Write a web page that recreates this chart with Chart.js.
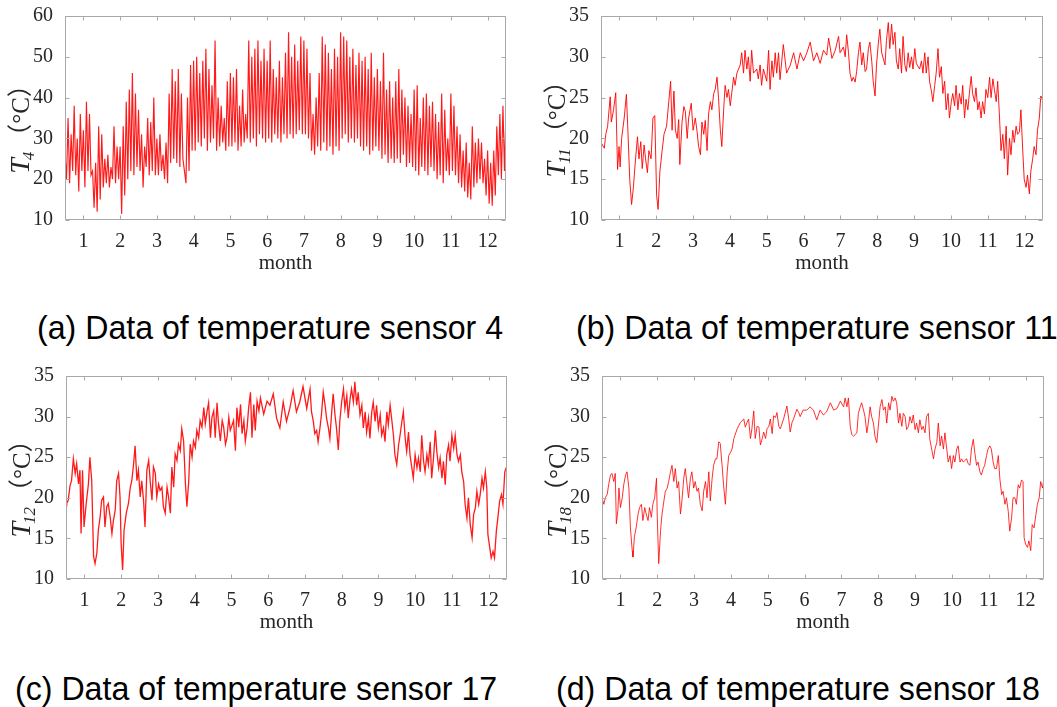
<!DOCTYPE html>
<html>
<head>
<meta charset="utf-8">
<script src="https://cdn.jsdelivr.net/npm/chart.js@4.4.1/dist/chart.umd.min.js"></script>
<style>
body{margin:0;background:#fff;width:1057px;height:707px;position:relative;overflow:hidden}
canvas{position:absolute}
.cap{position:absolute;font-family:"Liberation Sans",Arial,sans-serif;font-size:34px;line-height:34px;color:#000;white-space:nowrap;transform:scaleX(0.945);transform-origin:0 50%}
</style>
</head>
<body>
<canvas id="ca" width="530" height="280" style="left:0;top:0"></canvas>
<canvas id="cb" width="527" height="280" style="left:530px;top:0"></canvas>
<canvas id="cc" width="530" height="280" style="left:0;top:360px"></canvas>
<canvas id="cd" width="527" height="280" style="left:530px;top:360px"></canvas>
<div class="cap" style="left:37px;top:310px">(a) Data of temperature sensor 4</div>
<div class="cap" style="left:576px;top:310px">(b) Data of temperature sensor 11</div>
<div class="cap" style="left:15px;top:671px">(c) Data of temperature sensor 17</div>
<div class="cap" style="left:556px;top:671px">(d) Data of temperature sensor 18</div>
<script>
const monthTicks = [1,2,3,4,5,6,7,8,9,10,11,12];
const ticksT4 = [10,20,30,40,50,60];
const ticksLow = [10,15,20,25,30,35];

// sensor 4 swings day/night, read as high/low pairs every 1/24 month from 0.5
const t4 = [
  26,20,35,19,31,22,38,21,30,17,36,22,
  32,18,39,22,36,21,22,13,24,12,33,15,
  31,18,25,19,26,18,23,20,33,19,28,20,
  28,11.5,33,16,39,20,42,22,46,21,41,23,
  37,22,31,18,28,23,35,21,34,22,40,21,
  30,21,31,22,26,20,29,19,41,24,47,25,
  44,24,47,23,41,25,22,19,40,22,48,27,
  49,27,50,29,46,28,49,30,52,27,47,29,
  43,30,54,27,40,28,38,29,35,27,44,28,
  46,28,45,29,47,27,38,28,42,29,36,30,
  54,29,50,30,52,28,54,31,49,30,52,29,
  49,30,54,29,47,31,45,30,49,29,45,31,
  51,30,56,31,50,30,53,31,49,32,55,31,
  54,31,52,30,46,27,36,26,40,28,46,27,
  55,29,53,27,51,28,47,26,52,28,50,27,
  56,30,55,31,54,29,50,30,52,29,48,30,
  51,28,49,27,50,28,47,26,51,27,45,28,
  47,27,44,25,51,26,42,24,44,25,40,24,
  44,25,47,24,42,26,40,23,38,24,36,23,
  42,22,43,21,35,23,40,22,41,21,38,23,
  39,22,36,20,34,21,41,19,37,22,30,21,
  41,22,38,21,33,19,31,18,27,17,29,15.5,
  24,15,33,18,29,19,30,20,29,19,25,16,
  27,14,24,13.5,27,16,33,21,36,20,38,22,37
];

// [month, °C]
const t11 = [
  [0.5,19.5],[0.59,18.8],[0.63,20.5],[0.68,21.5],[0.75,25.1],[0.78,22],[0.84,23.5],[0.9,25.6],
  [0.95,16.2],[0.99,19],[1.02,16.5],[1.06,20],[1.13,22.5],[1.19,25.4],[1.23,21],[1.28,15],
  [1.33,11.9],[1.38,14],[1.42,16.5],[1.49,20.2],[1.53,17.5],[1.58,19.6],[1.62,16.3],[1.67,19.2],
  [1.71,17.5],[1.76,15.8],[1.8,18.5],[1.86,17.5],[1.91,22.5],[1.96,22.8],[2.01,13],[2.05,11.3],
  [2.1,16],[2.16,18.5],[2.21,20.5],[2.28,21.5],[2.34,24.5],[2.39,27],[2.43,21],[2.48,25.8],
  [2.52,21],[2.57,20],[2.61,22.3],[2.64,16.8],[2.7,22],[2.75,23.9],[2.79,23.3],[2.84,20],
  [2.88,22.5],[2.95,24.3],[3,21],[3.06,22.5],[3.11,20.8],[3.15,19],[3.2,18],[3.24,22],
  [3.29,20.5],[3.33,22.2],[3.38,18.5],[3.42,23],[3.47,24.5],[3.51,23.5],[3.56,25.5],[3.6,26],
  [3.65,27.5],[3.69,25],[3.74,21],[3.78,19],[3.83,23.5],[3.87,26.5],[3.92,25],[3.96,26],
  [4.01,24],[4.1,27.5],[4.14,26.5],[4.19,28],[4.28,29],[4.32,30.5],[4.37,28],[4.41,30.8],
  [4.46,28.5],[4.5,30],[4.55,27],[4.59,30.8],[4.64,28],[4.73,28.5],[4.77,27.3],[4.82,29],
  [4.86,26.5],[4.91,28.5],[5,27],[5.05,30.8],[5.09,26],[5.14,29.5],[5.18,27.5],[5.23,30.5],
  [5.27,28],[5.32,30.5],[5.36,27.2],[5.45,31.5],[5.54,28],[5.64,29],[5.73,30.5],[5.82,28.5],
  [5.91,30.5],[6,29.5],[6.09,30.5],[6.18,31.8],[6.27,29.5],[6.36,30.5],[6.45,29.2],[6.54,30.8],
  [6.63,30.2],[6.68,32.3],[6.77,29.8],[6.86,30.8],[6.95,32.5],[6.99,30.5],[7.08,31.2],[7.13,30],
  [7.17,32.7],[7.22,30.5],[7.26,28],[7.31,27],[7.35,27.5],[7.4,26.9],[7.44,28.2],[7.49,30.5],
  [7.53,31.8],[7.58,29],[7.62,30.5],[7.67,28.2],[7.71,28.5],[7.76,31],[7.8,31.8],[7.85,29.5],
  [7.89,27],[7.94,25.2],[7.98,29],[8.03,31.7],[8.07,33.4],[8.12,30.5],[8.21,29],[8.25,32],
  [8.3,34.2],[8.34,31],[8.39,34],[8.43,31.5],[8.48,33],[8.52,29.5],[8.57,28.5],[8.61,31],
  [8.66,28],[8.7,32.5],[8.75,29],[8.79,28.2],[8.84,30.5],[8.88,28.7],[8.93,30],[8.97,28.5],
  [9.02,31],[9.06,29.2],[9.15,28.5],[9.2,29.5],[9.24,28],[9.29,30.5],[9.33,28],[9.38,30],
  [9.42,27],[9.47,25.8],[9.51,24.5],[9.56,26.5],[9.6,28],[9.65,31],[9.69,27.5],[9.74,28.8],
  [9.78,25.5],[9.83,27],[9.87,23.5],[9.92,25.5],[9.96,22.5],[10.01,24.5],[10.05,25.5],[10.1,24],
  [10.14,26.5],[10.19,23.5],[10.23,25.5],[10.28,24.2],[10.32,26.5],[10.37,22.5],[10.41,24.8],[10.46,23.5],
  [10.5,25.5],[10.55,27.6],[10.59,25.5],[10.64,24.5],[10.68,26.2],[10.73,23.5],[10.77,24.5],[10.82,22.5],
  [10.86,24.5],[10.91,23],[10.95,26],[11,25],[11.05,27.5],[11.09,25],[11.14,27.3],[11.18,26],
  [11.23,24.5],[11.27,27],[11.32,22.5],[11.36,18.5],[11.41,20.5],[11.45,17.5],[11.5,21.5],[11.54,15.5],
  [11.59,20],[11.63,18],[11.68,21],[11.72,19.5],[11.77,21.5],[11.81,20.5],[11.86,20.8],[11.9,23.5],
  [11.95,18.5],[11.99,15],[12.04,14],[12.08,15.5],[12.13,13.2],[12.17,16],[12.22,17.5],[12.26,19],
  [12.31,18],[12.35,21],[12.4,22.5],[12.44,25.2],[12.5,24.5]
];

const t12 = [
  [0.5,19],[0.52,19.3],[0.56,19.7],[0.61,21.5],[0.65,22.1],[0.7,24.8],[0.75,23],[0.79,24.2],
  [0.84,21.7],[0.88,23.4],[0.91,15.6],[0.95,23.4],[0.99,16.4],[1.05,19.3],[1.11,21.7],[1.15,25],
  [1.2,22.1],[1.25,12.8],[1.29,11.9],[1.34,13.2],[1.38,16],[1.43,17.7],[1.47,19.7],[1.52,20.1],
  [1.56,16.4],[1.61,18.9],[1.65,19.3],[1.7,17.7],[1.75,15.6],[1.79,17.2],[1.84,18.5],[1.88,22.1],
  [1.93,23],[1.97,20.1],[2,14.4],[2.04,11.1],[2.08,16],[2.14,18.1],[2.2,19.3],[2.25,21.3],
  [2.29,22.1],[2.34,24.2],[2.38,26.4],[2.43,22.1],[2.47,23.4],[2.52,20.1],[2.56,22.1],[2.61,19.7],
  [2.65,16.4],[2.7,23.4],[2.75,24.6],[2.79,22.1],[2.84,19.7],[2.88,23.8],[2.93,23],[2.97,20.1],
  [3.02,21.7],[3.06,20.9],[3.11,21.3],[3.15,18.9],[3.2,18.1],[3.25,21.3],[3.29,20.1],[3.34,18.1],
  [3.38,23.8],[3.43,21.3],[3.47,25.4],[3.52,24.6],[3.56,26.6],[3.61,25.8],[3.65,28.5],[3.7,27],
  [3.75,21.7],[3.79,18.9],[3.84,22.1],[3.88,26.6],[3.93,25],[3.97,27],[4.02,26.2],[4.06,28.3],
  [4.11,27.4],[4.15,29.5],[4.2,28.7],[4.25,31.1],[4.29,29.1],[4.34,30.7],[4.38,31.7],[4.43,27.4],
  [4.47,29.9],[4.52,30.7],[4.56,27.4],[4.61,31.7],[4.65,29.1],[4.7,27],[4.75,29.5],[4.79,28.7],
  [4.84,26.6],[4.88,27.4],[4.93,29.9],[4.97,28.3],[5.06,29.5],[5.11,25.8],[5.15,31.1],[5.2,28.7],
  [5.25,31.5],[5.29,27.9],[5.34,29.5],[5.38,27],[5.43,28.7],[5.47,31.1],[5.52,33],[5.56,27.4],
  [5.61,31.5],[5.65,28.3],[5.7,31.9],[5.75,30.7],[5.79,32.3],[5.88,30.3],[5.97,31.9],[6.05,31.4],
  [6.14,32.8],[6.23,29.8],[6.32,28.6],[6.41,31.8],[6.5,29.4],[6.59,31],[6.68,33.2],[6.77,30.6],
  [6.86,31.8],[6.95,33.7],[7.05,31],[7.14,33.4],[7.18,30.6],[7.23,29.4],[7.27,27.9],[7.32,28.3],
  [7.36,26.9],[7.41,28.6],[7.45,30.2],[7.5,33],[7.55,31.4],[7.59,29.8],[7.64,28.6],[7.68,27.3],
  [7.73,30.6],[7.77,32.8],[7.82,30.2],[7.86,28.6],[7.91,25.9],[7.95,29.4],[8,31.8],[8.05,33.4],
  [8.09,31],[8.14,32.6],[8.18,29.8],[8.23,32.2],[8.27,33.4],[8.32,31.8],[8.36,34.3],[8.41,31.4],
  [8.45,33],[8.5,30.2],[8.55,31.4],[8.59,28.6],[8.64,30.6],[8.68,28.1],[8.73,29.8],[8.77,27.3],
  [8.82,30.6],[8.86,31.8],[8.91,29.4],[8.95,31.4],[9,28.6],[9.05,30.2],[9.09,27.7],[9.14,28.6],
  [9.18,26.9],[9.23,30.6],[9.27,29],[9.32,31.4],[9.36,29.8],[9.41,27.7],[9.45,25.3],[9.5,24.1],
  [9.55,26.5],[9.59,27.7],[9.64,29.4],[9.68,30.6],[9.73,27.3],[9.77,25.7],[9.82,28.1],[9.86,25.3],
  [9.91,23.7],[9.95,22.4],[10,25.3],[10.05,23.7],[10.09,24.9],[10.14,23.2],[10.18,27.7],[10.23,24.5],
  [10.27,23.2],[10.32,25.3],[10.36,24.1],[10.41,26.9],[10.45,22.4],[10.5,24.9],[10.55,28.3],[10.59,25.7],
  [10.64,23.7],[10.68,24.9],[10.73,22.4],[10.77,24.5],[10.82,21.6],[10.86,25.3],[10.91,26.5],[10.95,24.5],
  [11,27.7],[11.05,26.1],[11.09,27.7],[11.14,25.3],[11.18,24.5],[11.23,25.3],[11.27,23.2],[11.32,22],
  [11.36,19.2],[11.41,17.5],[11.45,20],[11.5,16.7],[11.55,15.1],[11.59,17.9],[11.64,18.8],[11.68,20.8],
  [11.73,19.2],[11.77,20.4],[11.82,22.4],[11.86,21.2],[11.91,23.2],[11.95,21.2],[11.98,15.5],[12.03,13.9],
  [12.07,12.6],[12.12,13.4],[12.16,12.6],[12.21,15.9],[12.25,17.5],[12.3,19.6],[12.35,20.4],[12.39,19.2],
  [12.44,23.2],[12.48,23.7],[12.5,23.2]
];

const t18 = [
  [0.5,20],[0.55,19.2],[0.59,20],[0.64,20.4],[0.68,21.6],[0.73,22.8],[0.77,23],[0.82,22],
  [0.86,23],[0.89,16.8],[0.93,18.4],[0.96,21.2],[1,18.8],[1.05,20],[1.09,21.6],[1.14,22.8],
  [1.18,23.2],[1.23,21.2],[1.27,16.4],[1.32,13.5],[1.34,12.7],[1.38,15.2],[1.43,16.4],[1.48,18],
  [1.52,18.8],[1.57,19.2],[1.61,17.2],[1.66,18.8],[1.7,18],[1.75,17.2],[1.79,18.8],[1.84,17.6],
  [1.88,19.2],[1.93,20],[1.98,22.4],[2,17.6],[2.04,11.9],[2.09,16],[2.13,18],[2.18,19.6],
  [2.22,20.8],[2.27,21.2],[2.31,22],[2.36,23.2],[2.4,24],[2.45,22],[2.49,23.6],[2.54,21.2],
  [2.58,22],[2.63,18],[2.67,19.6],[2.72,22.4],[2.76,23.6],[2.81,21.6],[2.85,20],[2.9,22.4],
  [2.94,23.2],[2.99,21.2],[3.03,22],[3.08,20.8],[3.12,21.2],[3.17,19.2],[3.22,18.4],[3.26,20.8],
  [3.31,22],[3.35,20],[3.4,23.2],[3.44,19.6],[3.49,22.4],[3.53,24],[3.58,24.8],[3.62,24.8],
  [3.67,26.9],[3.71,26.7],[3.76,24],[3.8,21.6],[3.85,19.2],[3.9,23.2],[3.94,25.2],[3.99,25.6],
  [4.03,26],[4.08,27.3],[4.17,28.5],[4.26,29.3],[4.35,29.7],[4.39,28.7],[4.44,29.3],[4.48,29.7],
  [4.53,27.3],[4.57,28.5],[4.62,30.7],[4.66,27.3],[4.71,28.8],[4.76,28.7],[4.8,26.5],[4.85,27.3],
  [4.89,28.1],[4.94,27.3],[4.98,28.5],[5.03,28.8],[5.07,29.7],[5.12,27.9],[5.16,30.1],[5.21,29.9],
  [5.25,30.5],[5.3,28.8],[5.34,28.5],[5.43,29.7],[5.52,31.3],[5.57,29.7],[5.61,28.1],[5.66,29.3],
  [5.7,29.7],[5.79,30.9],[5.84,30.5],[5.88,30],[5.96,30.8],[6.06,30.8],[6.15,31.2],[6.24,30.8],
  [6.33,29.6],[6.42,30.8],[6.51,30.2],[6.6,30.6],[6.7,31.7],[6.79,30.8],[6.88,31],[6.97,31.9],
  [7.06,31.2],[7.1,32.3],[7.15,31.2],[7.19,32.3],[7.24,28.8],[7.28,27.8],[7.33,27.6],[7.42,28],
  [7.46,30.4],[7.51,31.2],[7.55,31.7],[7.6,30.8],[7.64,30],[7.69,28],[7.73,29.2],[7.78,31.2],
  [7.82,30],[7.87,29.2],[7.91,27.6],[7.96,26.8],[8.01,29.2],[8.05,31.2],[8.1,32.1],[8.14,30.8],
  [8.19,31.2],[8.23,29.2],[8.28,31.7],[8.32,30.8],[8.37,32.5],[8.41,31.9],[8.46,32.3],[8.5,31.7],
  [8.55,29.2],[8.59,30.4],[8.64,28.8],[8.68,30.4],[8.73,30],[8.77,28.4],[8.82,28.8],[8.86,30],
  [8.91,29.2],[8.95,30.2],[9,28.4],[9.04,29.2],[9.09,28],[9.13,29.6],[9.18,28.4],[9.22,28.8],
  [9.27,28],[9.31,30],[9.36,30.4],[9.4,27.2],[9.45,26],[9.5,24.8],[9.54,26],[9.59,26.8],
  [9.63,29.2],[9.68,26.4],[9.72,27.6],[9.77,26],[9.81,28],[9.86,26],[9.9,24.4],[9.95,25.2],
  [9.99,23.6],[10.04,25.2],[10.08,24.4],[10.13,26],[10.17,26.4],[10.22,24.4],[10.26,24.8],[10.31,24.4],
  [10.35,24.6],[10.4,24.8],[10.44,24.2],[10.49,24],[10.53,26],[10.58,27.2],[10.62,25.6],[10.67,24],
  [10.71,24.4],[10.76,23.2],[10.8,22.8],[10.85,23.6],[10.89,24],[10.94,25.2],[10.98,26],[11.03,26.4],
  [11.07,26],[11.12,24.4],[11.16,23.6],[11.21,23.6],[11.26,25.2],[11.3,22.4],[11.35,20.4],[11.39,20.8],
  [11.44,19.2],[11.48,20],[11.53,18.3],[11.57,15.9],[11.62,17.5],[11.66,20],[11.71,20],[11.75,19.2],
  [11.8,21.6],[11.84,21.2],[11.89,22.2],[11.93,22],[11.96,15.1],[12,14.3],[12.05,13.9],[12.09,14.7],
  [12.14,13.5],[12.18,16.7],[12.23,16.3],[12.28,17.9],[12.32,19.2],[12.37,20],[12.41,22],[12.46,21.2],
  [12.5,22.4]
];

Chart.defaults.font.family = '"Liberation Serif", "Times New Roman", serif';
Chart.defaults.color = '#262626';

const toPts = arr => arr.map(p => ({x: p[0], y: p[1]}));
const t4Points = t4.map((v, i) => ({x: 0.5 + i / 24, y: v}));

// matlab-like box with inward ticks + y title with subscript
const framePlugin = {
  id: 'frame',
  afterDatasetsDraw(chart, args, opts) {
    const {ctx, chartArea: a, scales: {x, y}} = chart;
    const L = Math.round(a.left) + 0.5, R = Math.round(a.right) - 0.5;
    const T = Math.round(a.top) + 0.5, B = Math.round(a.bottom) - 0.5;
    ctx.save();
    ctx.strokeStyle = '#a8a8a8';
    ctx.lineWidth = 1;
    ctx.beginPath();
    ctx.rect(L, T, R - L, B - T);
    monthTicks.forEach(m => {
      const px = Math.round(x.getPixelForValue(m)) + 0.5;
      ctx.moveTo(px, B); ctx.lineTo(px, B - 4);
      ctx.moveTo(px, T); ctx.lineTo(px, T + 4);
    });
    opts.yTicks.forEach(v => {
      const py = Math.round(y.getPixelForValue(v)) + 0.5;
      ctx.moveTo(L, py); ctx.lineTo(L + 4, py);
      ctx.moveTo(R, py); ctx.lineTo(R - 4, py);
    });
    ctx.stroke();

    // y axis title
    const fT = 'italic 28px "Liberation Serif"';
    const fS = 'italic 17px "Liberation Serif"';
    const fU = '25px "Liberation Serif", "Noto Sans CJK SC"';
    const unit = '（°C）';
    ctx.font = fT; const wT = ctx.measureText('T').width;
    ctx.font = fS; const wS = ctx.measureText(opts.sub).width;
    ctx.font = fU; const wU = ctx.measureText(unit).width;
    const total = wT + wS + 1 + wU;
    ctx.translate(a.left - 36, (a.top + a.bottom) / 2 + 5);
    ctx.rotate(-Math.PI / 2);
    ctx.fillStyle = '#262626';
    ctx.textBaseline = 'alphabetic';
    let cx = -total / 2;
    ctx.font = fT; ctx.fillText('T', cx, 0); cx += wT;
    ctx.font = fS; ctx.fillText(opts.sub, cx - 2, 5); cx += wS + 1;
    ctx.font = fU; ctx.fillText(unit, cx, 0);
    ctx.restore();
  }
};

function makeChart(id, points, yTicks, sub, box, lw) {
  new Chart(document.getElementById(id), {
    type: 'line',
    data: {
      datasets: [{
        data: points,
        borderColor: 'rgba(255,0,0,0.9)',
        borderWidth: lw,
        pointRadius: 0,
        tension: 0
      }]
    },
    options: {
      responsive: false,
      animation: false,
      events: [],
      layout: {padding: {top: box.top, right: box.right, left: 0, bottom: 0}},
      plugins: {
        legend: {display: false},
        tooltip: {enabled: false},
        frame: {yTicks: yTicks, sub: sub}
      },
      scales: {
        x: {
          type: 'linear',
          min: 0.5, max: 12.5,
          grid: {display: false},
          border: {display: false},
          afterBuildTicks: s => { s.ticks = monthTicks.map(v => ({value: v})); },
          afterFit: s => { s.height = box.bottom; },
          ticks: {font: {size: 20}, padding: 2, autoSkip: false, maxRotation: 0, color: '#262626'},
          title: {display: true, text: 'month', font: {size: 21}, color: '#262626', padding: {top: 0, bottom: box.titlePad}}
        },
        y: {
          min: yTicks[0], max: yTicks[yTicks.length - 1],
          grid: {display: false},
          border: {display: false},
          afterBuildTicks: s => { s.ticks = yTicks.map(v => ({value: v})); },
          afterFit: s => { s.width = box.left; },
          ticks: {font: {size: 20}, padding: 4, color: '#262626'}
        }
      }
    },
    plugins: [framePlugin]
  });
}

makeChart('ca', t4Points, ticksT4, '4', {left: 65, right: 24, top: 16, bottom: 60, titlePad: 4}, 1.15);
makeChart('cb', toPts(t11), ticksLow, '11', {left: 71, right: 14, top: 16, bottom: 60, titlePad: 4}, 1);
makeChart('cc', toPts(t12), ticksLow, '12', {left: 66, right: 23, top: 15, bottom: 61, titlePad: 5}, 1.3);
makeChart('cd', toPts(t18), ticksLow, '18', {left: 72, right: 13, top: 13, bottom: 61, titlePad: 5}, 0.9);
</script>
</body>
</html>
